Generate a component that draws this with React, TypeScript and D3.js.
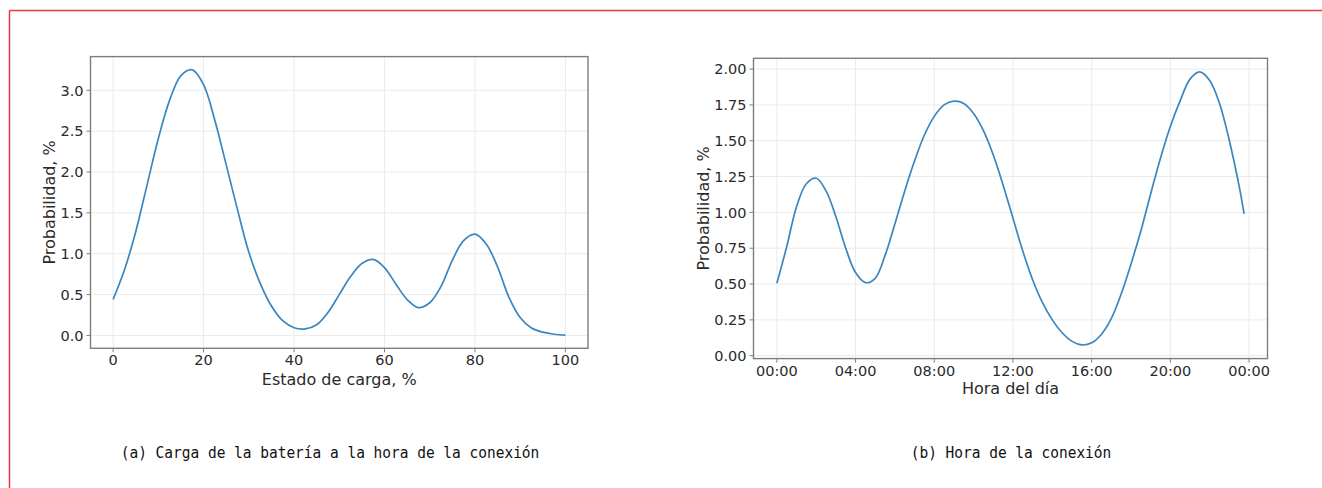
import React from "react";
import * as d3 from "d3";

// State of charge (%) and probability (%) at connection time
const socX = [0, 2.5, 5, 7.5, 10, 12.5, 15, 17.5, 20, 22.5, 25, 27.5, 30, 32.5, 35, 37.5, 40, 42.5, 45, 47.5, 50, 52.5, 55, 57.5, 60, 62.5, 65, 67.5, 70, 72.5, 75, 77.5, 80, 82.5, 85, 87.5, 90, 92.5, 95, 97.5, 100];
const socProb = [0.44, 0.8, 1.27, 1.84, 2.41, 2.88, 3.18, 3.25, 3.07, 2.63, 2.09, 1.54, 1.02, 0.64, 0.36, 0.18, 0.095, 0.08, 0.13, 0.28, 0.5, 0.72, 0.88, 0.93, 0.83, 0.63, 0.44, 0.34, 0.4, 0.6, 0.92, 1.16, 1.24, 1.12, 0.84, 0.47, 0.22, 0.09, 0.04, 0.015, 0.005];

// Hour of the day (h) and probability (%) of connection
const hourX = [0, 0.5, 1, 1.5, 2, 2.5, 3, 3.5, 4, 4.5, 5, 5.5, 6, 6.5, 7, 7.5, 8, 8.5, 9, 9.5, 10, 10.5, 11, 11.5, 12, 12.5, 13, 13.5, 14, 14.5, 15, 15.5, 16, 16.5, 17, 17.5, 18, 18.5, 19, 19.5, 20, 20.5, 21, 21.5, 22, 22.5, 23, 23.5, 23.75];
const hourProb = [0.505, 0.76, 1.04, 1.2, 1.238, 1.15, 0.97, 0.75, 0.58, 0.51, 0.54, 0.7, 0.92, 1.15, 1.36, 1.54, 1.67, 1.75, 1.776, 1.76, 1.69, 1.57, 1.4, 1.19, 0.96, 0.73, 0.53, 0.37, 0.25, 0.16, 0.1, 0.075, 0.09, 0.15, 0.26, 0.43, 0.64, 0.87, 1.13, 1.38, 1.6, 1.78, 1.93, 1.98, 1.92, 1.76, 1.5, 1.18, 0.99];

const socTicksX = [0, 20, 40, 60, 80, 100];
const socTicksY = [0, 0.5, 1.0, 1.5, 2.0, 2.5, 3.0];
const hourTicksX = [0, 4, 8, 12, 16, 20, 24];
const hourTickLabels = ["00:00", "04:00", "08:00", "12:00", "16:00", "20:00", "00:00"];
const hourTicksY = [0, 0.25, 0.5, 0.75, 1.0, 1.25, 1.5, 1.75, 2.0];

const LINE = "#3a86c0";
const SPINE = "#7d7d7d";
const GRID = "#ebebeb";
const TEXT = "#2a2a2a";
const FONT = "'DejaVu Sans', sans-serif";

type PanelProps = {
  xs: number[];
  ys: number[];
  box: { left: number; right: number; top: number; bottom: number };
  xTicks: number[];
  xLabels: string[];
  yTicks: number[];
  yFormat: (v: number) => string;
  xTitle: string;
  yTitle: string;
  xTitleY: number;
  yTitleX: number;
};

// 5% padding on each side of the data range, like matplotlib's default margins
function pad([lo, hi]: [number, number]): [number, number] {
  const m = (hi - lo) * 0.05;
  return [lo - m, hi + m];
}

function Panel(p: PanelProps) {
  const { box } = p;
  const x = d3.scaleLinear().domain(pad(d3.extent(p.xs) as [number, number])).range([box.left, box.right]);
  const y = d3.scaleLinear().domain(pad(d3.extent(p.ys) as [number, number])).range([box.bottom, box.top]);
  const pts = p.xs.map((v, i) => [v, p.ys[i]] as [number, number]);
  const path = d3
    .line<[number, number]>()
    .x((d) => x(d[0]))
    .y((d) => y(d[1]))
    .curve(d3.curveCatmullRom.alpha(0.5))(pts) as string;
  const cx = (box.left + box.right) / 2;
  const cy = (box.top + box.bottom) / 2;
  return (
    <g>
      {p.xTicks.map((t) => (
        <line key={"gx" + t} x1={x(t)} x2={x(t)} y1={box.top} y2={box.bottom} stroke={GRID} strokeWidth={1} />
      ))}
      {p.yTicks.map((t) => (
        <line key={"gy" + t} x1={box.left} x2={box.right} y1={y(t)} y2={y(t)} stroke={GRID} strokeWidth={1} />
      ))}
      <path d={path} fill="none" stroke={LINE} strokeWidth={1.7} strokeLinejoin="round" />
      <rect
        x={box.left}
        y={box.top}
        width={box.right - box.left}
        height={box.bottom - box.top}
        fill="none"
        stroke={SPINE}
        strokeWidth={1.4}
      />
      {p.xTicks.map((t, i) => (
        <g key={"tx" + i}>
          <line x1={x(t)} x2={x(t)} y1={box.bottom} y2={box.bottom + 4} stroke={SPINE} strokeWidth={1} />
          <text x={x(t)} y={box.bottom + 17} textAnchor="middle" fontSize={14.5} fill={TEXT} fontFamily={FONT}>
            {p.xLabels[i]}
          </text>
        </g>
      ))}
      {p.yTicks.map((t, i) => (
        <g key={"ty" + i}>
          <line x1={box.left - 4} x2={box.left} y1={y(t)} y2={y(t)} stroke={SPINE} strokeWidth={1} />
          <text
            x={box.left - 7}
            y={y(t)}
            dy="0.36em"
            textAnchor="end"
            fontSize={14.5}
            fill={TEXT}
            fontFamily={FONT}
          >
            {p.yFormat(t)}
          </text>
        </g>
      ))}
      <text x={cx} y={p.xTitleY} textAnchor="middle" fontSize={16} fill={TEXT} fontFamily={FONT}>
        {p.xTitle}
      </text>
      <text
        transform={`translate(${p.yTitleX},${cy}) rotate(-90)`}
        textAnchor="middle"
        dy="0.36em"
        fontSize={16}
        fill={TEXT}
        fontFamily={FONT}
      >
        {p.yTitle}
      </text>
    </g>
  );
}

export default function App() {
  const f1 = d3.format(".1f");
  const f2 = d3.format(".2f");
  return (
    <svg
      width={1322}
      height={488}
      style={{ position: "absolute", left: 0, top: 0, background: "#fff" }}
    >
      <rect width={1322} height={488} fill="#fff" />
      <line x1={9.5} x2={1322} y1={10.5} y2={10.5} stroke="#e8383e" strokeWidth={1.5} />
      <line x1={9.5} x2={9.5} y1={10.5} y2={488} stroke="#e8383e" strokeWidth={1.5} />

      <Panel
        xs={socX}
        ys={socProb}
        box={{ left: 90.5, right: 588, top: 56.6, bottom: 348.3 }}
        xTicks={socTicksX}
        xLabels={socTicksX.map(String)}
        yTicks={socTicksY}
        yFormat={f1}
        xTitle="Estado de carga, %"
        yTitle="Probabilidad, %"
        xTitleY={385}
        yTitleX={49}
      />
      <Panel
        xs={hourX}
        ys={hourProb}
        box={{ left: 753.5, right: 1267.5, top: 58.3, bottom: 358.6 }}
        xTicks={hourTicksX}
        xLabels={hourTickLabels}
        yTicks={hourTicksY}
        yFormat={f2}
        xTitle="Hora del día"
        yTitle="Probabilidad, %"
        xTitleY={394}
        yTitleX={703}
      />

      <text
        transform="translate(330,458) scale(1,1.15)"
        textAnchor="middle"
        fontSize={14.5}
        fill="#111"
        fontFamily="'DejaVu Sans Mono', monospace"
      >
        (a) Carga de la batería a la hora de la conexión
      </text>
      <text
        transform="translate(1011,458) scale(1,1.15)"
        textAnchor="middle"
        fontSize={14.5}
        fill="#111"
        fontFamily="'DejaVu Sans Mono', monospace"
      >
        (b) Hora de la conexión
      </text>
    </svg>
  );
}
